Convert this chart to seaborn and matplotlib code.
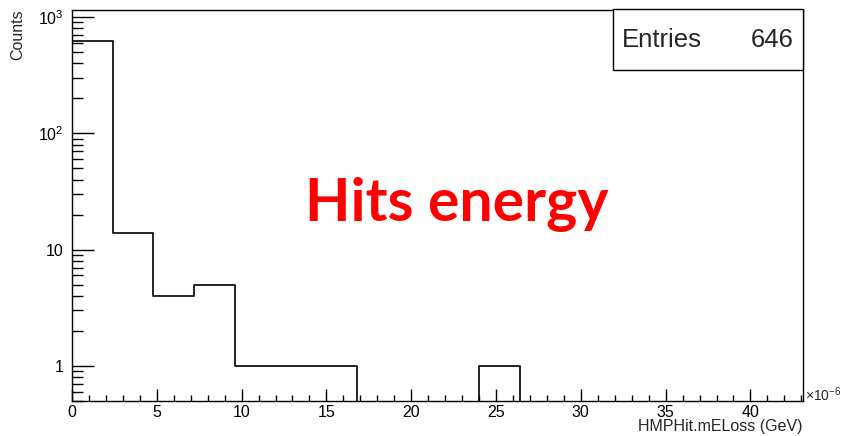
import numpy as np
import pandas as pd
import seaborn as sns
import matplotlib
matplotlib.use("Agg")
import matplotlib.pyplot as plt
from matplotlib.ticker import FuncFormatter, LogLocator, MultipleLocator, NullFormatter

# ---- data (x in units of 1e-6 GeV) ----
bin_edges = [0.0, 2.4, 4.8, 7.2, 9.6, 12.0, 14.4, 16.8, 19.2, 21.6, 24.0,
             26.4, 28.8, 31.2, 33.6, 36.0, 38.4, 40.8, 43.2]
bin_counts = [619, 14, 4, 5, 1, 1, 1, 0, 0, 0, 1, 0, 0, 0, 0, 0, 0, 0]
entries = 646
title_text = "Hits energy"
x_label = "HMPHit.mELoss (GeV)"
y_label = "Counts"

sns.set_style("ticks")
plt.rcParams['font.family'] = ['Liberation Sans', 'DejaVu Sans']
plt.rcParams['mathtext.fontset'] = 'custom'
plt.rcParams['mathtext.rm'] = 'Liberation Sans'
plt.rcParams['mathtext.it'] = 'Liberation Sans'

centers = [(bin_edges[i] + bin_edges[i + 1]) / 2 for i in range(len(bin_counts))]
df = pd.DataFrame({"x": centers, "w": bin_counts})

W, H = 844, 436
fig = plt.figure(figsize=(W / 100, H / 100), dpi=100)
ax = fig.add_axes([72 / W, 1 - 401 / H, (803 - 72) / W, (401 - 10) / H])

sns.histplot(data=df, x="x", weights="w", bins=bin_edges, element="step",
             fill=False, color="black", linewidth=1.2, ax=ax)
ax.set_yscale("log")
ax.set_xlim(0, 43.1)
ax.set_ylim(0.5, 1150)
ax.set_xlabel("")
ax.set_ylabel("")

for s in ax.spines.values():
    s.set_visible(True)
    s.set_linewidth(1.0)
    s.set_color("black")

# ticks
ax.xaxis.set_major_locator(MultipleLocator(5))
ax.xaxis.set_minor_locator(MultipleLocator(1))
ax.yaxis.set_major_locator(LogLocator(base=10, numticks=10))
ax.yaxis.set_minor_locator(LogLocator(base=10, subs=np.arange(2, 10), numticks=20))
ax.yaxis.set_minor_formatter(NullFormatter())

def yfmt(v, pos):
    if abs(v - 1) < 1e-9:
        return "1"
    if abs(v - 10) < 1e-9:
        return "10"
    e = int(round(np.log10(v)))
    return r"$10^{%d}$" % e
ax.yaxis.set_major_formatter(FuncFormatter(yfmt))

ax.tick_params(axis="both", which="both", direction="in", top=False, right=False,
               labelsize=11.5, colors="black")
ax.tick_params(axis="x", which="major", length=8.6, width=1.0, pad=3)
ax.tick_params(axis="x", which="minor", length=4.3, width=1.0)
ax.tick_params(axis="y", which="major", length=15.5, width=1.0, pad=6)
ax.tick_params(axis="y", which="minor", length=7.8, width=1.0)

# stats box
fig.patches.append(plt.Rectangle((613 / W, 1 - 70 / H), (803 - 613) / W, (70 - 9.5) / H,
                                 transform=fig.transFigure, facecolor="white",
                                 edgecolor="black", linewidth=1.0, zorder=5))
fig.text(622 / W, 1 - 40 / H, "Entries", fontsize=18.5, ha="left", va="center", zorder=6)
fig.text(794 / W, 1 - 40 / H, str(entries), fontsize=18.5, ha="right", va="center", zorder=6)

# title-like label
fig.text(457 / W, 1 - 221 / H, title_text, fontsize=42.5, fontweight="bold",
         color="#ff0000", ha="center", va="baseline", family=["Lato", "DejaVu Sans"])

# axis labels ROOT style
fig.text(803 / W, 1 - 431 / H, x_label, fontsize=11.5, ha="right", va="baseline")
fig.text(805 / W, 1 - 401 / H, r"$\times10^{-6}$", fontsize=10, ha="left", va="baseline")
fig.text(17.5 / W, 1 - 9 / H, y_label, fontsize=11.5, rotation=90, ha="center", va="top")

fig.savefig("out.png", dpi=100)
